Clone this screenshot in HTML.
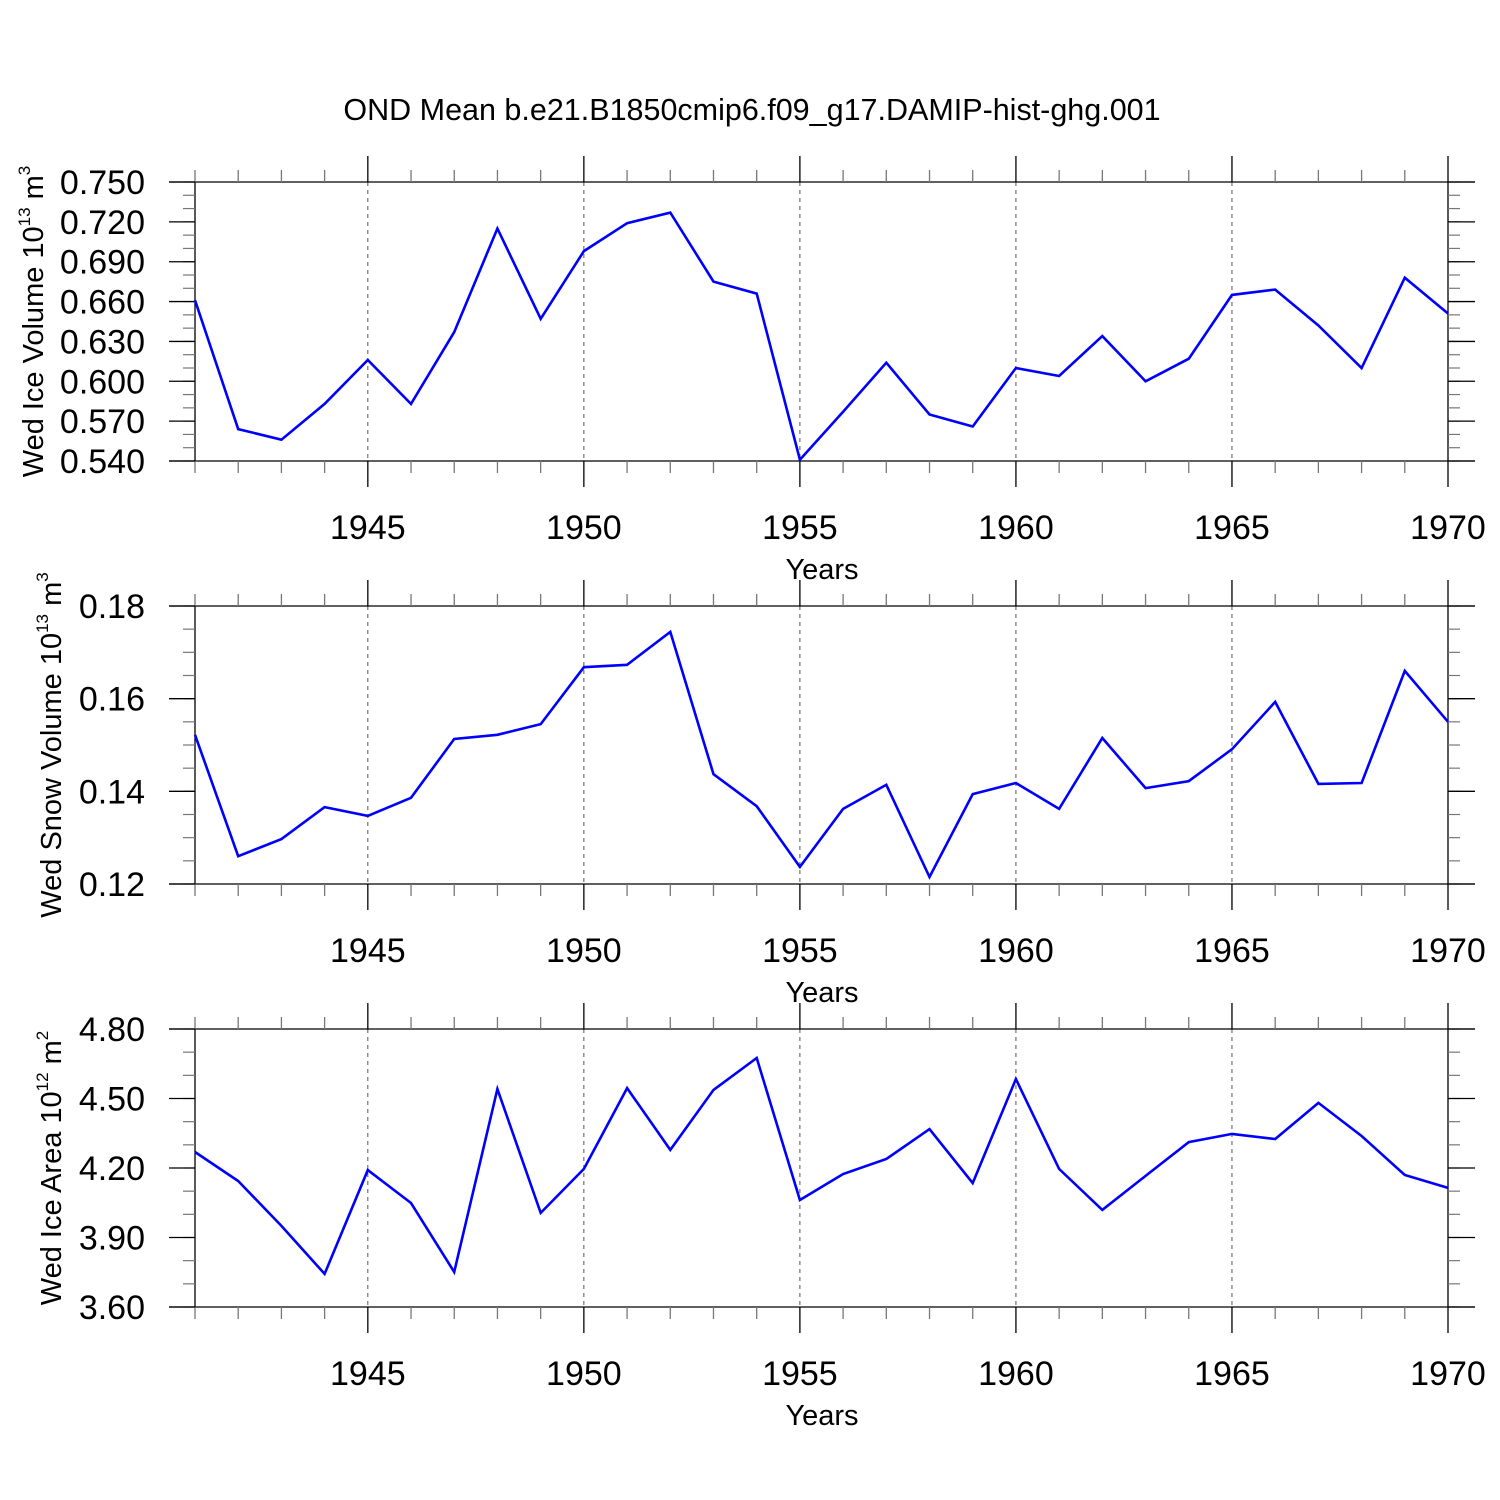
<!DOCTYPE html>
<html><head><meta charset="utf-8"><style>
html,body{margin:0;padding:0;background:#fff}
svg{display:block;font-family:"Liberation Sans",Arial,sans-serif}
</style></head><body>
<svg id="c" width="1500" height="1500" viewBox="0 0 1500 1500">
<text x="752" y="120" font-size="30.5" text-anchor="middle">OND Mean b.e21.B1850cmip6.f09_g17.DAMIP-hist-ghg.001</text>
</svg>
<script>
const years = [];
for (let y = 1941; y <= 1970; y++) years.push(y);
const iceVolume = [0.661,0.564,0.556,0.583,0.616,0.583,0.637,0.715,0.647,0.698,0.719,0.727,0.675,0.666,0.541,0.577,0.614,0.575,0.566,0.610,0.604,0.634,0.600,0.617,0.665,0.669,0.642,0.610,0.678,0.651];
const snowVolume = [0.1522,0.126,0.1297,0.1366,0.1347,0.1386,0.1513,0.1522,0.1545,0.1668,0.1673,0.1744,0.1437,0.1368,0.1237,0.1362,0.1414,0.1215,0.1394,0.1418,0.1362,0.1515,0.1407,0.1422,0.1491,0.1593,0.1416,0.1418,0.166,0.155];
const iceArea = [4.269,4.144,3.950,3.743,4.191,4.049,3.751,4.541,4.006,4.196,4.545,4.278,4.537,4.675,4.062,4.174,4.239,4.368,4.135,4.584,4.196,4.019,4.166,4.312,4.347,4.325,4.481,4.338,4.170,4.114];
const xTickLabels = [1945,1950,1955,1960,1965,1970];
const iceVolTicks = [0.540,0.570,0.600,0.630,0.660,0.690,0.720,0.750];
const snowTicks = [0.12,0.14,0.16,0.18];
const areaTicks = [3.60,3.90,4.20,4.50,4.80];

const svg = document.getElementById('c');
const NS = 'http://www.w3.org/2000/svg';
function mk(tag, attrs, parent) {
  const e = document.createElementNS(NS, tag);
  for (const k in attrs) e.setAttribute(k, attrs[k]);
  (parent || svg).appendChild(e);
  return e;
}
const X0 = 195, X1 = 1448;
function xs(yr) { return X0 + (yr - 1941) / 29 * (X1 - X0); }

function panel(key, top, bot, vals, ticks, minorStep, dec, titleMain, titleExp, titleUnit, unitExp, titleX) {
  const g = mk('g', {});
  
  
  const yMin = ticks[0], yMax = ticks[ticks.length - 1];
  const ys = v => bot - (v - yMin) / (yMax - yMin) * (bot - top);
  xTickLabels.forEach(yr => {
    if (yr === 1970) return;
    const l = mk('line', {x1: xs(yr), x2: xs(yr), y1: top, y2: bot, stroke: '#555', 'stroke-width': 1, 'stroke-dasharray': '4,4'}, g);
    
    
  });
  mk('line', {x1: 169, x2: 1475, y1: top, y2: top, stroke: '#000', 'stroke-width': 1.3}, g);
  mk('line', {x1: 169, x2: 1475, y1: bot, y2: bot, stroke: '#000', 'stroke-width': 1.3}, g);
  mk('line', {x1: X0, x2: X0, y1: top, y2: bot, stroke: '#000', 'stroke-width': 1.3}, g);
  mk('line', {x1: X1, x2: X1, y1: top, y2: bot, stroke: '#000', 'stroke-width': 1.3}, g);
  years.forEach(yr => {
    const major = yr % 5 === 0;
    const len = major ? 26 : 12;
    const x = xs(yr);
    mk('line', {x1: x, x2: x, y1: top - len, y2: top, stroke: major ? '#000' : '#777', 'stroke-width': 1.3}, g);
    mk('line', {x1: x, x2: x, y1: bot, y2: bot + len, stroke: major ? '#000' : '#777', 'stroke-width': 1.3}, g);
  });
  xTickLabels.forEach(yr => {
    const t = mk('text', {x: xs(yr), y: bot + 78, 'font-size': 34, 'text-anchor': 'middle'}, g);
    t.textContent = yr;
    
    
  });
  const xt = mk('text', {x: 822, y: bot + 118, 'font-size': 29, 'text-anchor': 'middle'}, g);
  xt.textContent = 'Years';
  
  
  const n = Math.round((yMax - yMin) / minorStep);
  for (let i = 0; i <= n; i++) {
    const v = yMin + i * minorStep;
    const y = ys(v);
    mk('line', {x1: X0 - 12, x2: X0, y1: y, y2: y, stroke: '#777', 'stroke-width': 1.2}, g);
    mk('line', {x1: X1, x2: X1 + 12, y1: y, y2: y, stroke: '#777', 'stroke-width': 1.2}, g);
  }
  ticks.forEach(v => {
    const y = ys(v);
    mk('line', {x1: 169, x2: X0, y1: y, y2: y, stroke: '#000', 'stroke-width': 1.3}, g);
    mk('line', {x1: X1, x2: 1475, y1: y, y2: y, stroke: '#000', 'stroke-width': 1.3}, g);
    const t = mk('text', {x: 145, y: y + 12, 'font-size': 34, 'text-anchor': 'end'}, g);
    t.textContent = v.toFixed(dec);
    
    
  });
  const cy = (top + bot) / 2;
  const yt = mk('text', {transform: `translate(${titleX},${cy}) rotate(-90)`, 'font-size': 29, 'text-anchor': 'middle'}, g);
  
  
  const a = mk('tspan', {}, yt); a.textContent = titleMain;
  const b = mk('tspan', {'font-size': 17, dy: -13}, yt); b.textContent = titleExp;
  const c = mk('tspan', {dy: 13}, yt); c.textContent = ' ' + titleUnit;
  const d = mk('tspan', {'font-size': 17, dy: -13}, yt); d.textContent = unitExp;
  const pts = vals.map((v, i) => xs(years[i]).toFixed(1) + ',' + ys(v).toFixed(1)).join(' ');
  const pl = mk('polyline', {points: pts, fill: 'none', stroke: '#0000ff', 'stroke-width': 2.6, 'stroke-linejoin': 'miter'}, g);
  
  
}
panel('ice-volume', 182, 461, iceVolume, iceVolTicks, 0.01, 3, 'Wed Ice Volume 10', '13', 'm', '3', 43);
panel('snow-volume', 606, 884, snowVolume, snowTicks, 0.005, 2, 'Wed Snow Volume 10', '13', 'm', '3', 61);
panel('ice-area', 1029, 1307, iceArea, areaTicks, 0.1, 2, 'Wed Ice Area 10', '12', 'm', '2', 61);
</script>
</body></html>
